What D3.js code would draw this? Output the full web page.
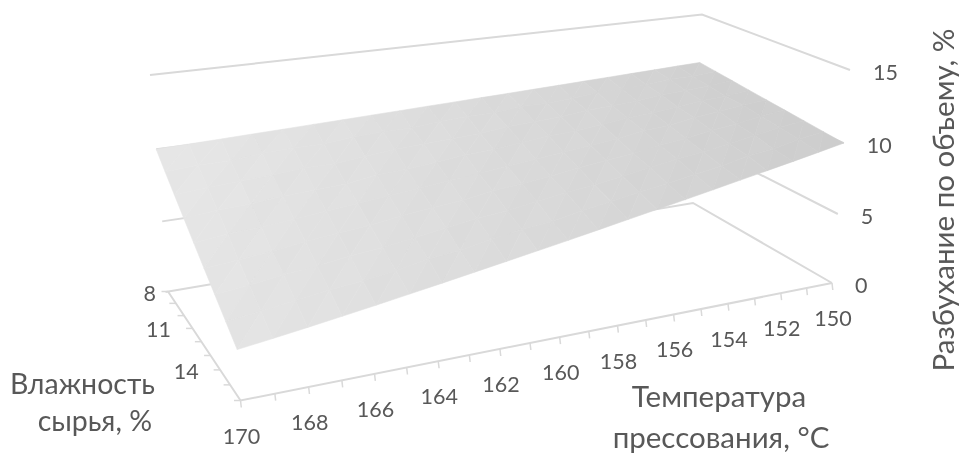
<!DOCTYPE html>
<html><head><meta charset="utf-8">
<script src="https://cdn.jsdelivr.net/npm/d3@7"></script>
<style>html,body{margin:0;padding:0;background:#fff}svg{display:block}text{font-family:Lato,"Open Sans",sans-serif;fill:#595959}</style>
</head><body><svg id="c" width="959" height="453"></svg>
<script>
const temperatures = d3.range(150, 171);
const humidities = [8,9,10,11,12,13,14,15,16];
const tempLabels = [150,152,154,156,158,160,162,164,166,168,170];
const humLabels = [8,11,14];
const zTicks = [0,5,10,15];
const swell8  = [11.30,11.24,11.17,11.11,11.04,10.98,10.91,10.85,10.78,10.72,10.65,10.59,10.52,10.46,10.39,10.33,10.26,10.20,10.13,10.07,10.00];
const swell9  = [11.14,11.0,11.0,10.8,10.7,10.7,10.5,10.4,10.4,10.2,10.2,10.1,9.9,9.9,9.8,9.6,9.6,9.5,9.3,9.3,9.16];
const swell10 = [10.98,10.8,10.7,10.6,10.4,10.3,10.2,10.0,9.9,9.8,9.6,9.5,9.4,9.3,9.1,8.9,8.9,8.7,8.6,8.5,8.33];
const swell11 = [10.81,10.6,10.5,10.3,10.1,10.0,9.8,9.6,9.5,9.3,9.1,9.0,8.8,8.6,8.5,8.2,8.1,8.0,7.8,7.7,7.49];
const swell12 = [10.65,10.5,10.3,10.1,9.8,9.7,9.4,9.2,9.0,8.8,8.6,8.4,8.2,8.0,7.8,7.6,7.4,7.2,7.0,6.9,6.65];
const swell13 = [10.49,10.3,10.0,9.8,9.5,9.3,9.0,8.8,8.6,8.3,8.1,7.9,7.6,7.4,7.2,6.9,6.7,6.5,6.2,6.0,5.81];
const swell14 = [10.33,10.1,9.8,9.5,9.2,9.0,8.7,8.4,8.1,7.9,7.6,7.3,7.1,6.8,6.5,6.2,6.0,5.7,5.5,5.2,4.98];
const swell15 = [10.16,9.9,9.5,9.3,8.9,8.6,8.3,8.0,7.7,7.4,7.0,6.8,6.5,6.1,5.9,5.5,5.2,5.0,4.7,4.4,4.14];
const swell16 = [10.00,9.65,9.30,8.96,8.62,8.27,7.92,7.58,7.23,6.88,6.53,6.19,5.85,5.51,5.17,4.84,4.51,4.19,3.88,3.58,3.30];
const surface = [swell8,swell9,swell10,swell11,swell12,swell13,swell14,swell15,swell16];

// camera: screen corners of the box (back, left, front, right)
const floorQuad = [[693,203],[168,291.5],[240.5,400.5],[832,283]];
const topQuad   = [[702,14.5],[150,75],[225,161],[850,70]];
const W = 0.958;

function quadMap(q){
  const [[x0,y0],[x1,y1],[x2,y2],[x3,y3]] = q;
  const dx1=x1-x2,dx2=x3-x2,sx=x0-x1+x2-x3,dy1=y1-y2,dy2=y3-y2,sy=y0-y1+y2-y3;
  const den=dx1*dy2-dx2*dy1,g=(sx*dy2-dx2*sy)/den,h=(dx1*sy-sx*dy1)/den;
  const a=x1-x0+g*x1,b=x3-x0+h*x3,d=y1-y0+g*y1,e=y3-y0+h*y3;
  return (u,v)=>{const w=g*u+h*v+1;return [(a*u+b*v+x0)/w,(d*u+e*v+y0)/w];};
}
const H0=quadMap(floorQuad),H1=quadMap(topQuad);
const uS=d3.scaleLinear().domain([150,170]).range([0,1]);
const vS=d3.scaleLinear().domain([8,16]).range([0,1]);
const zS=d3.scaleLinear().domain([0,15]).range([0,1]);
function P(t,h,z){
  const u=uS(t),v=vS(h),s=zS(z),a=H0(u,v),b=H1(u,v),n=1-s,m=s*W,k=n+m;
  return [(n*a[0]+m*b[0])/k,(n*a[1]+m*b[1])/k];
}
const svg=d3.select("#c");
const defs=svg.append("defs");
defs.append("filter").attr("id","soft").attr("x","-5%").attr("y","-5%").attr("width","110%").attr("height","110%")
  .append("feGaussianBlur").attr("stdDeviation",0.45);
const root=svg.append("g").attr("filter","url(#soft)");
const line=d3.line();
const axisCol="#d9d9d9";
// walls
const walls=root.append("g").attr("fill","none").attr("stroke",axisCol).attr("stroke-width",2);
walls.selectAll("path").data(zTicks).join("path").attr("d",z=>{
  const l=P(170,8,z),b=P(150,8,z),r=P(150,16,z);
  return line(z===0?[[l[0]-2.5,l[1]+0.4],b,r]:[l,b,r]);
});
// floor axes
const axes=root.append("g").attr("fill","none").attr("stroke",axisCol);
axes.append("path").attr("stroke-width",2).attr("d",line([P(170,8,0),P(170,16,0),P(150,16,0)]));
axes.selectAll(".tt").data(temperatures).join("path").attr("class","tt").attr("stroke-width",1.5)
  .attr("d",t=>{const p=P(t,16,0);return line([p,[p[0]+0.8,p[1]+7]]);});
axes.selectAll(".ht").data(humidities).join("path").attr("class","ht").attr("stroke-width",1.5)
  .attr("d",h=>{const p=P(170,h,0);return line([p,[p[0]-6.5,p[1]]]);});
// surface
const grey=d3.scaleLinear().domain([150,170]).range([207,230]);
const dark=d3.scaleLinear().domain([8,16]).range([1,-2]);
const facets=[];
for(let j=0;j<humidities.length-1;j++)for(let i=0;i<temperatures.length-1;i++){
  const t0=temperatures[i],t1=temperatures[i+1],h0=humidities[j],h1=humidities[j+1];
  const a=P(t0,h0,surface[j][i]),b=P(t1,h0,surface[j][i+1]),c=P(t1,h1,surface[j+1][i+1]),d=P(t0,h1,surface[j+1][i]);
  const base=grey(t0)+dark(h0);
  const g1=Math.round(base+((i+j)%2?0.6:-0.2)),g2=Math.round(base+((i+j)%2?-0.2:0.6));
  facets.push({pts:[a,b,c],g:g1},{pts:[a,c,d],g:g2});
}
root.append("g").selectAll("path").data(facets).join("path")
  .attr("d",f=>line(f.pts)+"Z").attr("fill",f=>d3.rgb(f.g,f.g,f.g)).attr("stroke",f=>d3.rgb(f.g,f.g,f.g)).attr("stroke-width",0.6);
// labels
const lab=svg.append("g").attr("filter","url(#soft)");
lab.selectAll(".tl").data(tempLabels).join("text").attr("class","tl").attr("font-size",21.5).attr("text-anchor","middle")
  .attr("x",t=>P(t,16,0)[0]+1).attr("y",t=>P(t,16,0)[1]+43).text(t=>t);
lab.selectAll(".hl").data(humLabels).join("text").attr("class","hl").attr("font-size",21.5).attr("text-anchor","end")
  .attr("x",h=>P(170,h,0)[0]-(h<10?12:21.5)).attr("y",h=>P(170,h,0)[1]+9).text(h=>h);
lab.selectAll(".zl").data(zTicks).join("text").attr("class","zl").attr("font-size",21.5)
  .attr("x",z=>P(150,16,z)[0]+23).attr("y",z=>P(150,16,z)[1]+9.5).text(z=>z);
const T=(s,x,y,a,sz)=>lab.append("text").attr("x",x).attr("y",y).attr("text-anchor",a).attr("font-size",sz||29.5).text(s);
T("Влажность",155,394,"end",28.5);
T("сырья, %",152,431,"end",28.5);
T("Температура",719,407,"middle");
T("прессования, °С",721,448,"middle");
lab.append("text").attr("transform","translate(954,200) rotate(-90)").attr("text-anchor","middle").attr("font-size",29.5).text("Разбухание по объему, %");
</script></body></html>
